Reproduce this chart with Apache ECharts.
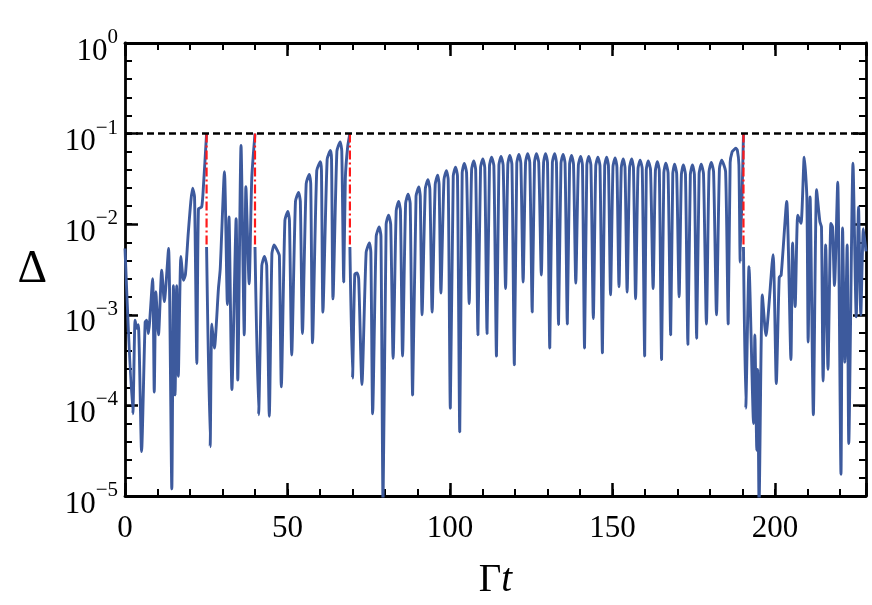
<!DOCTYPE html>
<html>
<head>
<meta charset="utf-8">
<script src="https://cdn.jsdelivr.net/npm/echarts@6/dist/echarts.min.js"></script>
<style>
html,body{margin:0;padding:0;background:#fff;}
#grafico{width:872px;height:605px;}
</style>
</head>
<body>
<div id="grafico"></div>
<script>
// tramos de la curva Delta(Gamma t), separados por los reinicios
var segA=[[0,5.4e-3],[2.4,8.1e-5],[3.1,8.7e-4],[3.6,7.1e-4],[4.1,7.8e-4],[5.1,3.1e-5],[6.2,8.3e-4],[6.7,8.7e-4],[7.2,6.2e-4],
[8.5,2.5e-3],[9.0,1.4e-4],[9.5,1.8e-3],[10.3,6.0e-4],[11.3,3.1e-3],[12.1,1.4e-3],[13.4,5.4e-3],[14.4,1.2e-5],[14.9,2.1e-3],
[15.4,1.3e-4],[15.9,2.1e-3],[16.4,2.1e-4],[17.2,4.4e-3],[18.0,2.4e-3],[18.6,2.8e-3],[19.5,8.3e-3],[20.8,2.5e-2],[21.4,2.0e-2],
[22.1,2.9e-4],[22.6,1.48e-2],[23.6,1.55e-2],[24.1,2.5e-2],[25.1,0.1]];

var segB=[[25.1,5.6e-3],[26.2,3.5e-5],[26.7,7.9e-4],[27.5,4.3e-4],[28.75,1.95e-3],[29.3,3.2e-3],[30.6,3.8e-2],[31.5,1.3e-3],
[32.0,1.2e-2],[32.9,1.5e-4],[34.2,1.15e-2],[34.7,1.9e-4],[35.7,7.4e-2],[36.7,6.0e-4],[37.2,2.6e-2],[38.2,2.2e-3],[39.0,3.2e-2],[40.0,0.1]];

var segC=[[40.0,5.6e-3],[41.1,7.9e-5],
[42.1,3.5e-3],[42.9,4.4e-3],[43.6,3.5e-3],[44.4,7.6e-5],
[45.2,4.7e-3],[45.9,5.9e-3],[46.9,5.1e-3],[47.5,4.5e-3],[48.1,1.6e-4],
[49.2,1.1e-2],[50.1,1.38e-2],[50.6,1.1e-2],[51.3,3.6e-4],
[52.45,1.78e-2],[53.4,2.24e-2],[53.95,1.78e-2],[54.6,6.2e-4],
[55.75,2.8e-2],[56.7,3.55e-2],[57.15,2.8e-2],[57.7,4.9e-4],
[59.0,3.9e-2],[60.1,4.9e-2],[60.45,3.9e-2],[60.9,1.07e-3],
[62.2,5.2e-2],[63.2,6.5e-2],[63.55,5.2e-2],[64.0,1.5e-3],
[65.2,6.4e-2],[66.2,8.1e-2],[66.7,6.4e-2],[67.3,2.3e-3],
[67.8,3.2e-2],[68.5,7.1e-2],[69.2,0.1]];

var segD=[[69.2,5.6e-3],[70.0,2.0e-4],[70.7,2.8e-3],[71.4,2.9e-3],[71.9,2.5e-3],[72.9,1.7e-4],
[74.2,4.9e-3],[75.2,6.2e-3],[75.65,4.9e-3],[76.2,8.1e-5],
[77.3,7.4e-3],[78.2,9.3e-3],[78.75,7.4e-3],[79.4,8e-6],
[80.35,1.0e-2],[81.1,1.26e-2],[81.75,1.0e-2],[82.5,3.3e-4],
[83.45,1.41e-2],[84.2,1.78e-2],[84.75,1.41e-2],[85.4,3.5e-4],
[86.35,1.7e-2],[87.1,2.14e-2],[87.75,1.7e-2],[88.5,1.3e-4],
[89.55,2.04e-2],[90.4,2.57e-2],[90.85,2.04e-2],[91.4,1.0e-3],
[92.4,2.45e-2],[93.2,3.09e-2],[93.8,2.45e-2],[94.5,1.07e-3],
[95.45,2.75e-2],[96.2,3.47e-2],[96.65,2.75e-2],[97.2,1.74e-3],
[98.15,3.1e-2],[98.9,3.9e-2],[99.45,3.1e-2],[100.1,9.3e-5],
[101.0,3.4e-2],[101.7,4.27e-2],[102.3,3.4e-2],[103.0,5.1e-5],
[103.75,3.7e-2],[104.4,4.68e-2],[105.1,3.7e-2],[105.9,1.33e-3],
[106.65,4.0e-2],[107.3,5.0e-2],[107.9,4.0e-2],[108.6,6.0e-4],
[109.4,4.2e-2],[110.1,5.25e-2],[110.7,4.2e-2],[111.4,6.2e-4],
[112.15,4.4e-2],[112.8,5.5e-2],[113.5,4.4e-2],[114.3,3.5e-4],
[115.05,4.5e-2],[115.7,5.6e-2],[116.35,4.5e-2],[117.1,1.95e-3],
[117.8,4.6e-2],[118.4,5.75e-2],[119.05,4.6e-2],[119.8,2.8e-4],
[120.55,4.7e-2],[121.2,5.9e-2],[121.8,4.7e-2],[122.5,2.3e-3],
[123.25,4.8e-2],[123.9,6.0e-2],[124.55,4.8e-2],[125.3,1.07e-3],
[126.0,4.8e-2],[126.6,6.0e-2],[127.3,4.8e-2],[128.1,2.75e-3],
[128.8,4.8e-2],[129.4,6.0e-2],[130.0,4.8e-2],[130.7,4.3e-4],
[131.5,4.8e-2],[132.2,6.0e-2],[132.75,4.8e-2],[133.4,7.8e-4],
[134.15,4.7e-2],[134.8,5.9e-2],[135.4,4.7e-2],[136.1,7.9e-4],
[136.8,4.6e-2],[137.4,5.75e-2],[138.0,4.6e-2],[138.7,2.24e-3],
[139.5,4.5e-2],[140.2,5.6e-2],[140.75,4.5e-2],[141.4,4.3e-4],
[142.1,4.5e-2],[142.7,5.6e-2],[143.35,4.5e-2],[144.1,9.1e-4],
[144.85,4.4e-2],[145.5,5.5e-2],[146.15,4.4e-2],[146.9,3.8e-4],
[147.6,4.4e-2],[148.2,5.5e-2],[148.75,4.4e-2],[149.4,1.66e-3],
[150.15,4.3e-2],[150.8,5.4e-2],[151.35,4.3e-2],[152.0,2.04e-3],
[152.7,4.2e-2],[153.3,5.25e-2],[153.85,4.2e-2],[154.5,1.78e-3],
[155.25,4.2e-2],[155.9,5.25e-2],[156.45,4.2e-2],[157.1,1.5e-3],
[157.85,4.1e-2],[158.5,5.1e-2],[159.15,4.1e-2],[159.9,3.5e-4],
[160.4,4.0e-2],[161.0,5.0e-2],[161.7,4.0e-2],[162.5,1.95e-3],
[163.2,3.9e-2],[163.8,4.9e-2],[164.4,3.9e-2],[165.1,3.2e-4],
[165.8,3.7e-2],[166.4,4.7e-2],[167.1,3.7e-2],[167.9,6.0e-4],
[168.55,3.6e-2],[169.1,4.6e-2],[169.75,3.6e-2],[170.5,1.58e-3],
[171.2,3.55e-2],[171.8,4.5e-2],[172.45,3.55e-2],[173.2,4.7e-4],
[173.95,3.55e-2],[174.6,4.5e-2],[175.2,3.55e-2],[175.9,5.5e-4],
[176.65,3.6e-2],[177.3,4.6e-2],[178.0,3.6e-2],[178.9,7.9e-4],
[179.7,3.8e-2],[180.4,4.8e-2],[181.1,3.8e-2],[182.0,1.0e-3],
[182.9,4.1e-2],[183.6,5.1e-2],[184.8,3.8e-2],[185.6,7.9e-4],
[186.2,4.8e-2],[186.8,6.3e-2],[187.3,6.6e-2],[187.9,6.9e-2],[188.4,6.6e-2],[188.9,4.5e-2],[189.3,3.8e-3],
[190.3,0.1]];

var segE=[[190.3,5.6e-3],[191.0,9.3e-5],[192.0,3.4e-3],[193.4,6.3e-5],[193.8,6.0e-4],[194.4,3.2e-5],[194.7,2.5e-4],[195.1,7.9e-6],
[196.1,1.66e-3],[197.2,5.9e-4],[199.4,4.6e-3],[200.4,1.74e-4],[201.3,2.6e-3],[201.9,2.75e-3],[203.6,1.78e-2],[204.9,3.2e-4],
[205.4,6.2e-3],[206.2,1.23e-3],[207.0,1.26e-2],[208.0,1.02e-2],[209.0,5.5e-2],[209.8,2.0e-2],[210.2,5.0e-4],[210.8,2.0e-2],
[211.8,7.9e-5],[212.8,2.4e-2],[213.8,1.07e-2],[214.3,9.3e-3],[214.8,1.86e-4],[215.6,5.9e-3],[216.3,2.5e-4],[217.2,1.02e-2],
[217.7,9.3e-3],[218.3,2.1e-3],[219.3,2.9e-2],[220.3,1.74e-5],[220.8,9.1e-3],[221.5,3.0e-4],[222.2,5.9e-3],[222.7,3.8e-5],
[224.0,4.7e-2],[225.0,9.5e-4],[225.7,1.55e-2],[226.4,1.0e-3],[227.2,8.9e-3],[228,5.0e-3]];

var tramos=[segA,segB,segC,segD,segE];
var reinicioX=[25.1,40.0,69.2,190.3];
var reinicioBajo=5.6e-3;
var umbral=0.1;
var xMax=228;

var F='"Liberation Serif","Times New Roman",serif';
var azul='#3d5a9d';

var dom=document.getElementById("grafico");
var myChart=echarts.init(dom);

var series=[];
tramos.forEach(function(t){
	series.push({
		type:'line',data:t,showSymbol:false,smooth:0.2,z:3,
		lineStyle:{color:azul,width:2.9},silent:true
	});
});
reinicioX.forEach(function(x){
	series.push({
		type:'line',data:[[x,umbral],[x,reinicioBajo]],showSymbol:false,z:4,
		lineStyle:{color:'#ff1a1a',width:2.2,type:[9,3,2,3]},silent:true
	});
});
series.push({
	type:'line',data:[[0,umbral],[xMax,umbral]],showSymbol:false,z:5,
	lineStyle:{color:'#000',width:2.5,type:[7,4]},silent:true
});

var linea={onZero:false,lineStyle:{color:'#000',width:2.8}};

var option={
	animation:false,
	grid:{left:125,right:6,top:43,bottom:108},
	xAxis:[
	{
		type:'value',min:0,max:xMax,interval:50,position:'bottom',
		axisLine:linea,
		axisTick:{inside:true,length:13,lineStyle:{color:'#000',width:2.5}},
		axisLabel:{margin:17,fontFamily:F,fontSize:31,lineHeight:31,color:'#000',
			formatter:function(v){return v%50===0?String(v):'';}},
		splitLine:{show:false},
		name:'{g|\u0393}{t|t}',nameLocation:'middle',nameGap:65,
		nameTextStyle:{rich:{g:{fontFamily:F,fontSize:39,color:'#000',lineHeight:39},t:{fontFamily:F,fontSize:39,fontStyle:'italic',color:'#000',lineHeight:39}}}
	},
	{
		type:'value',min:0,max:xMax,interval:10,position:'bottom',
		axisLine:{show:false,onZero:false},
		axisTick:{inside:true,length:7,lineStyle:{color:'#000',width:2}},
		axisLabel:{show:false},splitLine:{show:false}
	},
	{
		type:'value',min:0,max:xMax,interval:50,position:'top',
		axisLine:linea,
		axisTick:{inside:true,length:13,lineStyle:{color:'#000',width:2.5}},
		axisLabel:{show:false},splitLine:{show:false}
	},
	{
		type:'value',min:0,max:xMax,interval:10,position:'top',
		axisLine:{show:false,onZero:false},
		axisTick:{inside:true,length:7,lineStyle:{color:'#000',width:2}},
		axisLabel:{show:false},splitLine:{show:false}
	}
	],
	yAxis:[
	{
		type:'log',logBase:10,min:1e-5,max:1,position:'left',
		axisLine:linea,
		axisTick:{inside:true,length:13,lineStyle:{color:'#000',width:2.5}},
		axisLabel:{margin:7,padding:[8,0,0,0],
			formatter:function(v){
				var e=Math.round(Math.log(v)/Math.LN10);
				return '{b|10}{s|'+(e===0?'0':'\u2212'+(-e))+'}';
			},
			rich:{
				b:{fontFamily:F,fontSize:31,lineHeight:40,color:'#000',verticalAlign:'bottom'},
				s:{fontFamily:F,fontSize:21,lineHeight:21,color:'#000',verticalAlign:'top'}
			}
		},
		splitLine:{show:false},
		name:'\u0394',nameLocation:'middle',nameRotate:0,nameGap:78,
		nameTextStyle:{fontFamily:F,fontSize:46,color:'#000'}
	},
	{
		type:'value',min:-5,max:0,interval:0.2,position:'left',
		axisLine:{show:false,onZero:false},
		axisTick:{inside:true,length:7,lineStyle:{color:'#000',width:2}},
		axisLabel:{show:false},splitLine:{show:false}
	},
	{
		type:'log',logBase:10,min:1e-5,max:1,position:'right',
		axisLine:linea,
		axisTick:{inside:true,length:13,lineStyle:{color:'#000',width:2.5}},
		axisLabel:{show:false},splitLine:{show:false}
	},
	{
		type:'value',min:-5,max:0,interval:0.2,position:'right',
		axisLine:{show:false,onZero:false},
		axisTick:{inside:true,length:7,lineStyle:{color:'#000',width:2}},
		axisLabel:{show:false},splitLine:{show:false}
	}
	],
	series:series
};

if (option && typeof option === "object") {
	myChart.setOption(option, true);
}
</script>
</body>
</html>
